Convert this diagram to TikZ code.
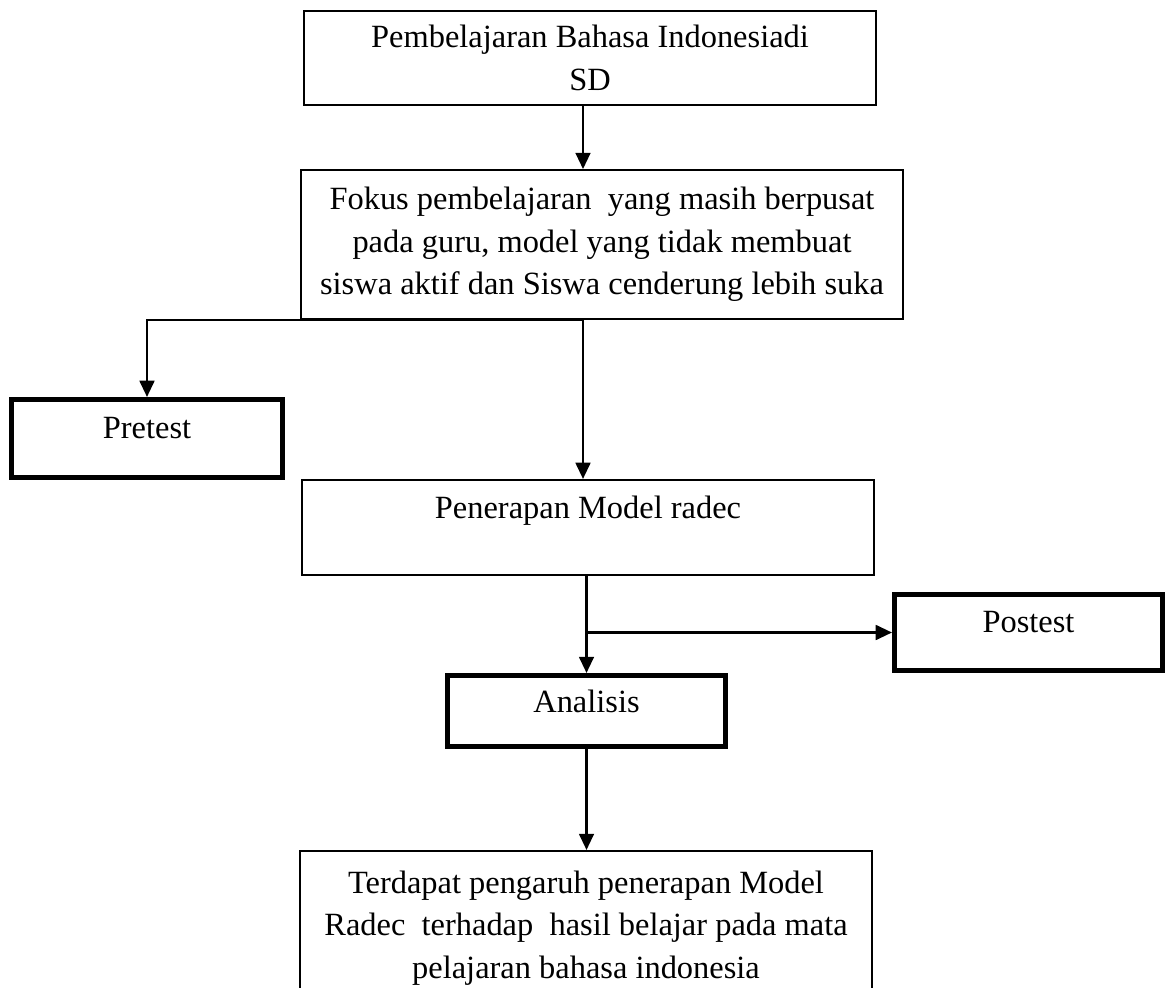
\documentclass[tikz,border=0pt]{standalone}
\usepackage{fontspec}
\setmainfont{Liberation Serif}
\usetikzlibrary{arrows.meta}

\begin{document}
\begin{tikzpicture}[x=0.37pt, y=-0.37pt,
  box/.style={draw, line width=0.75pt, align=center, inner sep=0pt,
    font=\fontsize{12}{15.7}\selectfont},
  boldbox/.style={box, line width=1.85pt},
  arr/.style={-{Triangle[length=6pt,width=5.5pt]}, line width=0.8pt}]

\useasboundingbox (0,0) rectangle (1166,987);
\clip (0,0) rectangle (1166,987);

% Boxes down the middle
\node[box, minimum width=211.6pt, minimum height=34.8pt] (pembelajaran) at (590,58)
  {Pembelajaran Bahasa Indonesiadi\\SD};
\node[box, minimum width=222.7pt, minimum height=55.1pt] (fokus) at (602,244.5)
  {Fokus pembelajaran\ \ yang masih berpusat\\pada guru, model yang tidak membuat\\siswa aktif dan Siswa cenderung lebih suka};
\node[box, minimum width=211.6pt, minimum height=35.2pt, text depth=15pt] (penerapan) at (588,527.5)
  {Penerapan Model radec};
\node[boldbox, minimum width=102.9pt, minimum height=26.3pt, text depth=7pt] (analisis) at (586.5,711)
  {Analisis};
\node[box, minimum width=211.6pt, minimum height=57pt] (hasil) at (586,928)
  {Terdapat pengaruh penerapan Model\\Radec\ \ terhadap\ \ hasil belajar pada mata\\pelajaran bahasa indonesia};

% Side boxes
\node[boldbox, minimum width=100.3pt, minimum height=28.9pt, text depth=8pt] (pretest) at (147,438.5)
  {Pretest};
\node[boldbox, minimum width=99.2pt, minimum height=28.1pt, text depth=8pt] (postest) at (1028.5,632.5)
  {Postest};

% Connectors
\coordinate (spine) at (583,0);
\draw[arr] (pembelajaran.south -| spine) -- (fokus.north -| spine);
\draw[arr] (fokus.south -| spine) -| (pretest.north);
\draw[arr] (fokus.south -| spine) -- (penerapan.north -| spine);
\draw[arr] (penerapan.south -| analisis) -- (analisis.north);
\draw[arr] (postest.west -| analisis) -- (postest.west);
\draw[arr] (analisis.south) -- (hasil.north -| analisis);

\end{tikzpicture}
\end{document}
